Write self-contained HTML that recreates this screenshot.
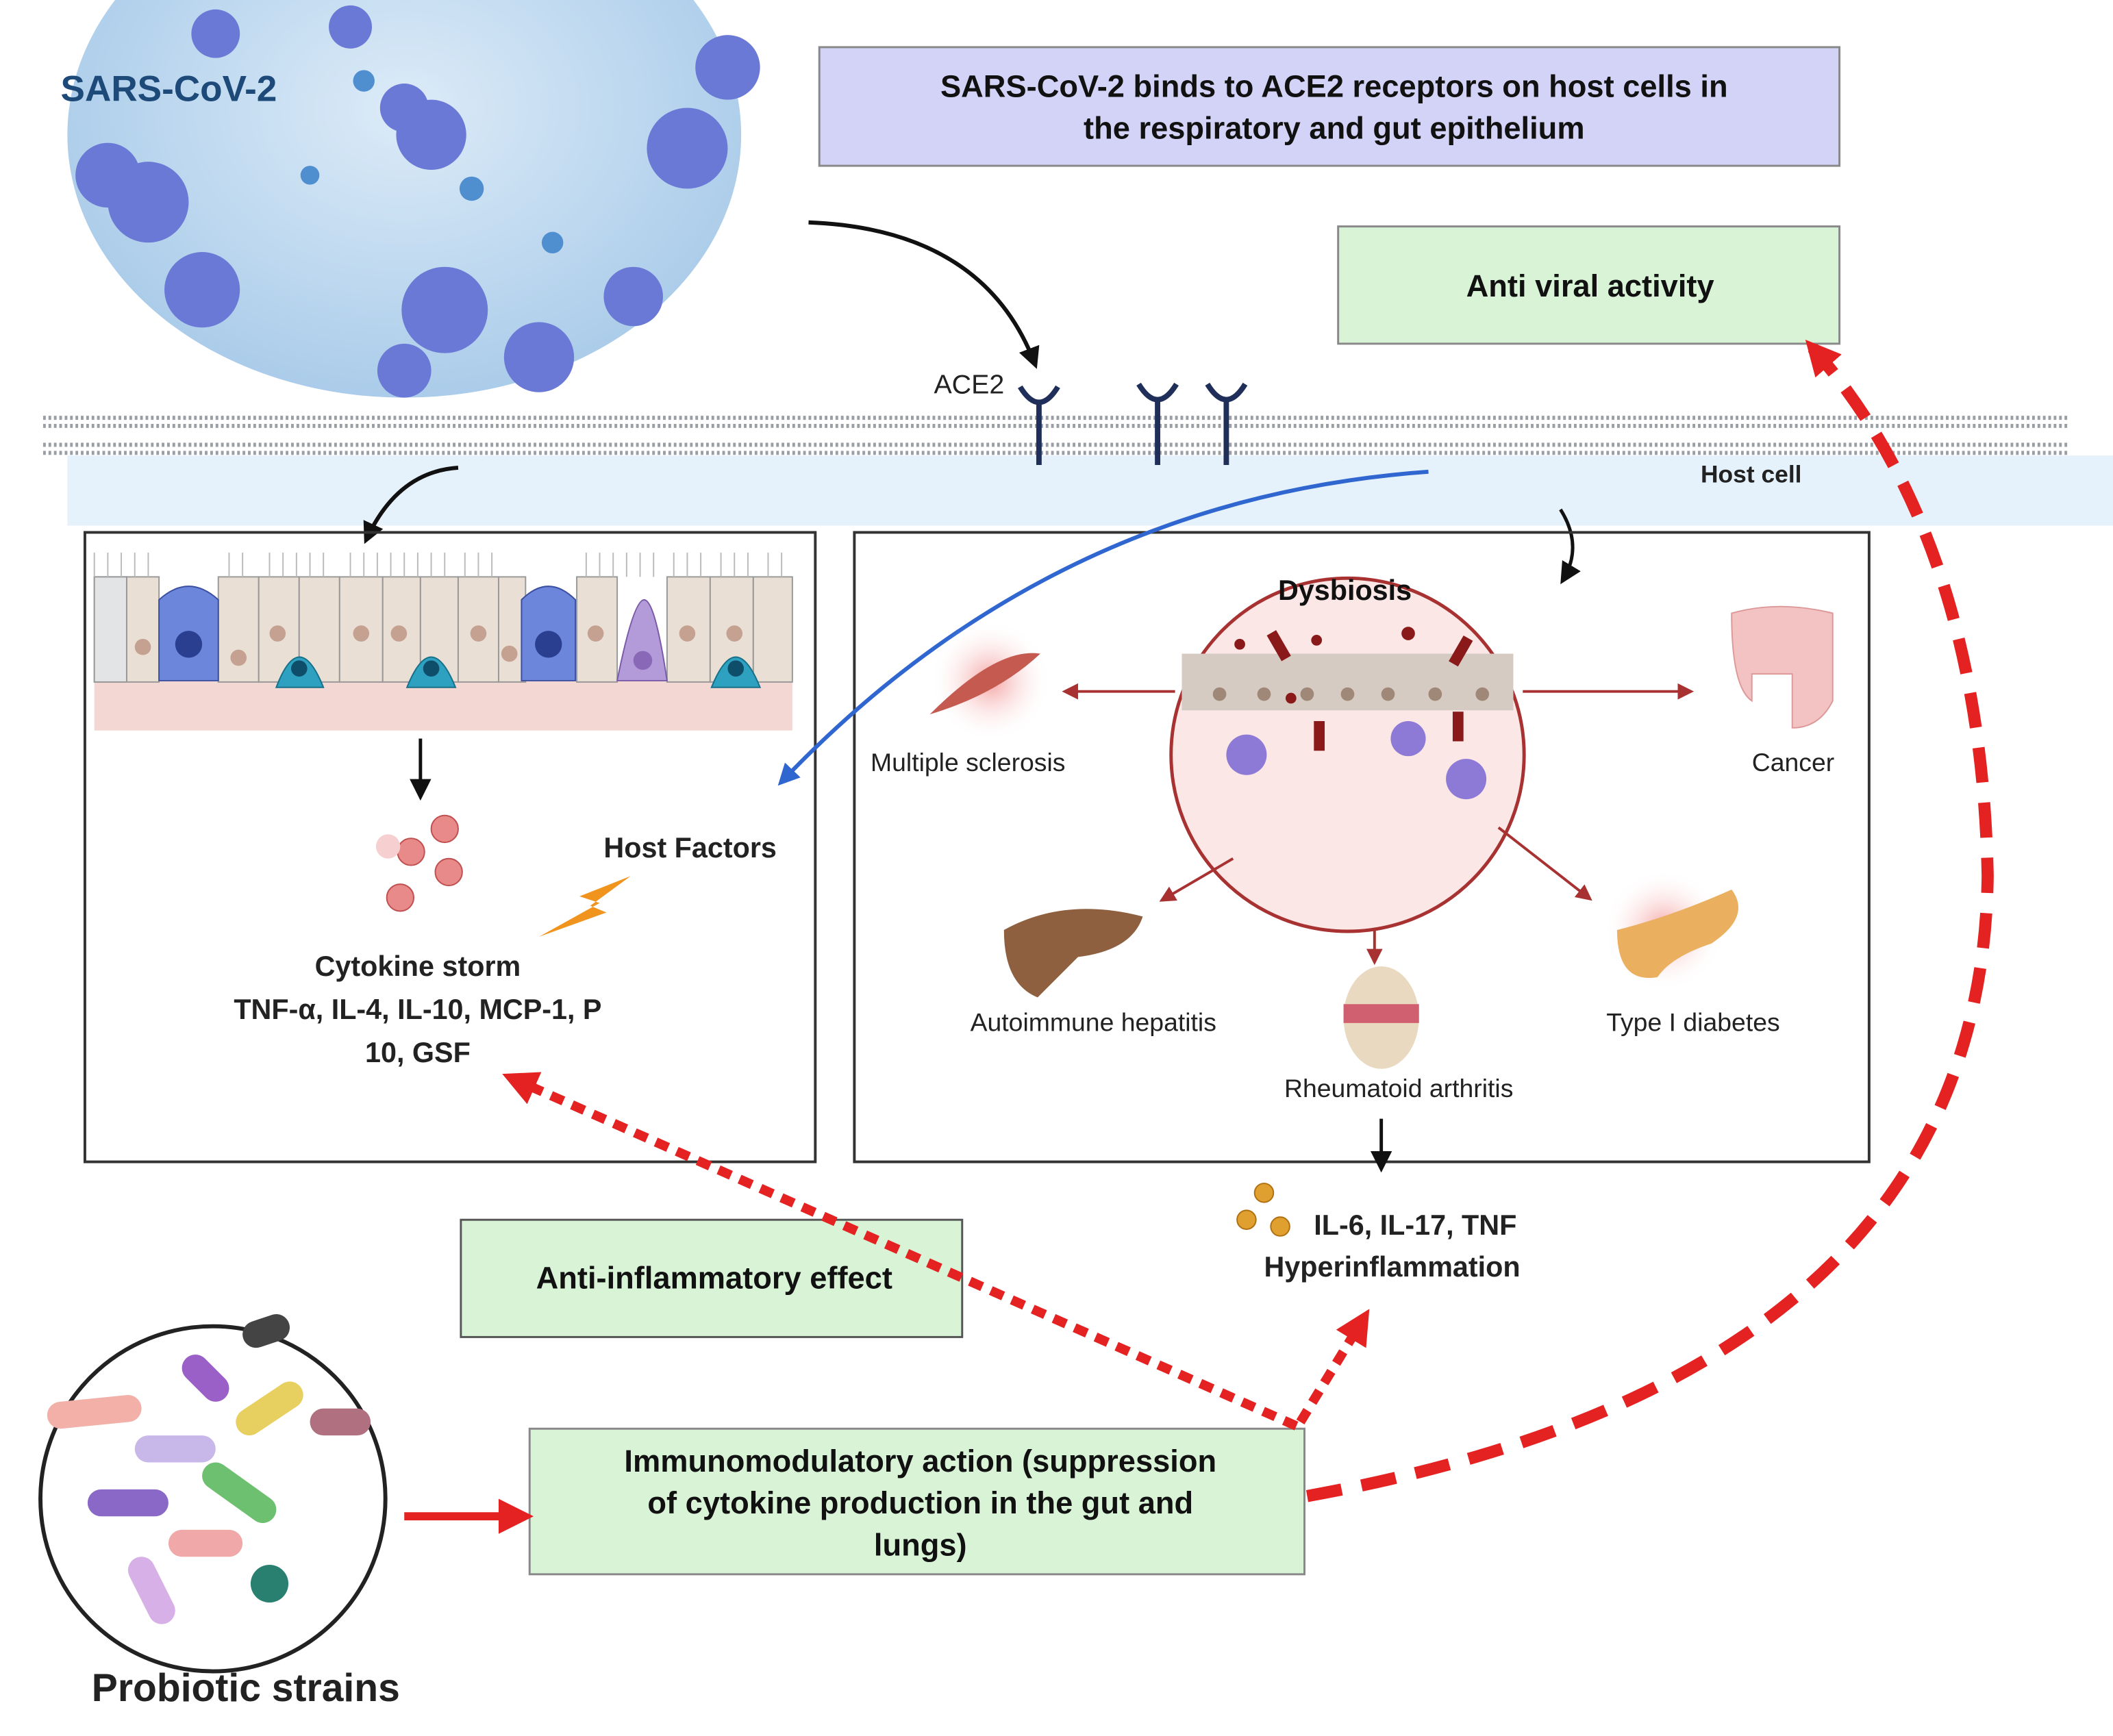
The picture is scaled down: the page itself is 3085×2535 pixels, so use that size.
<!DOCTYPE html>
<html><head><meta charset="utf-8"><style>
html,body{margin:0;padding:0;background:#fff;width:3085px;height:2535px;overflow:hidden}
svg{display:block}
text{font-family:"Liberation Sans",sans-serif}
</style></head><body>
<svg width="3085" height="2535" viewBox="0 0 1568 1288" preserveAspectRatio="none" xmlns="http://www.w3.org/2000/svg">
<defs>
<radialGradient id="vir" cx="0.5" cy="0.45" r="0.6"><stop offset="0" stop-color="#dcebf8"/><stop offset="1" stop-color="#a6c9e8"/></radialGradient>
<radialGradient id="glow" r="0.5"><stop offset="0" stop-color="#f4a0a0"/><stop offset="1" stop-color="#fff" stop-opacity="0"/></radialGradient>
<marker id="abig" markerWidth="16" markerHeight="16" refX="12" refY="8" orient="auto" markerUnits="userSpaceOnUse"><path d="M0,0 L16,8 L0,16 z" fill="#111"/></marker>
<marker id="ar" markerWidth="12" markerHeight="12" refX="10" refY="6" orient="auto" markerUnits="userSpaceOnUse"><path d="M0,0 L12,6 L0,12 z" fill="#a83232"/></marker>
<marker id="ared" markerWidth="26" markerHeight="26" refX="18" refY="13" orient="auto" markerUnits="userSpaceOnUse"><path d="M0,0 L26,13 L0,26 z" fill="#e52222"/></marker>
<marker id="abl" markerWidth="16" markerHeight="16" refX="12" refY="8" orient="auto" markerUnits="userSpaceOnUse"><path d="M0,0 L16,8 L0,16 z" fill="#2f66d0"/></marker>
</defs>
<!-- virus -->
<ellipse cx="300" cy="100" rx="250" ry="195" fill="url(#vir)"/>
<g fill="#6b79d6">
<circle cx="110" cy="150" r="30"/><circle cx="80" cy="130" r="24"/><circle cx="150" cy="215" r="28"/>
<circle cx="320" cy="100" r="26"/><circle cx="300" cy="80" r="18"/>
<circle cx="330" cy="230" r="32"/><circle cx="300" cy="275" r="20"/><circle cx="400" cy="265" r="26"/>
<circle cx="470" cy="220" r="22"/><circle cx="510" cy="110" r="30"/><circle cx="540" cy="50" r="24"/>
<circle cx="160" cy="25" r="18"/><circle cx="260" cy="20" r="16"/>
</g>
<g fill="#4f8fd0"><circle cx="350" cy="140" r="9"/><circle cx="410" cy="180" r="8"/><circle cx="230" cy="130" r="7"/><circle cx="270" cy="60" r="8"/></g>
<text x="45" y="75" font-size="27" font-weight="bold" fill="#1d4a79">SARS-CoV-2</text>
<!-- top box -->
<rect x="608" y="35" width="757" height="88" fill="#d3d3f7" stroke="#888" stroke-width="1.5"/>
<text x="990" y="72" font-size="23" font-weight="bold" text-anchor="middle" fill="#111">SARS-CoV-2 binds to ACE2 receptors on host cells in</text>
<text x="990" y="103" font-size="23" font-weight="bold" text-anchor="middle" fill="#111">the respiratory and gut epithelium</text>
<rect x="993" y="168" width="372" height="87" fill="#d9f3d7" stroke="#888" stroke-width="1.5"/>
<text x="1180" y="220" font-size="23" font-weight="bold" text-anchor="middle" fill="#111">Anti viral activity</text>
<!-- membrane -->
<rect x="50" y="338" width="1518" height="52" fill="#e5f1fb"/>
<g stroke="#9a9fa6" stroke-width="3" stroke-dasharray="2,2">
<line x1="32" y1="310" x2="1535" y2="310"/><line x1="32" y1="316" x2="1535" y2="316"/>
<line x1="32" y1="330" x2="1535" y2="330"/><line x1="32" y1="336" x2="1535" y2="336"/>
</g>
<g stroke="#1f2f5a" stroke-width="4" fill="none">
<line x1="771" y1="300" x2="771" y2="345"/><path d="M757,287 Q771,310 785,287"/>
<line x1="859" y1="298" x2="859" y2="345"/><path d="M845,285 Q859,308 873,285"/>
<line x1="910" y1="298" x2="910" y2="345"/><path d="M896,285 Q910,308 924,285"/>
</g>
<text x="693" y="292" font-size="20" fill="#222">ACE2</text>
<text x="1262" y="358" font-size="18" font-weight="bold" fill="#222">Host cell</text>
<path d="M600,165 Q730,170 768,270" stroke="#111" stroke-width="3" fill="none" marker-end="url(#abig)"/>
<path d="M340,347 Q295,350 272,400" stroke="#111" stroke-width="3" fill="none" marker-end="url(#abig)"/>
<path d="M1158,378 Q1175,405 1160,430" stroke="#111" stroke-width="2.5" fill="none" marker-end="url(#abig)"/>
<!-- boxes -->
<rect x="63" y="395" width="542" height="467" fill="none" stroke="#333" stroke-width="2"/>
<rect x="634" y="395" width="753" height="467" fill="none" stroke="#333" stroke-width="2"/>
<!-- epithelium -->
<rect x="70" y="505" width="518" height="37" fill="#f3d7d3"/>
<g stroke="#999" stroke-width="1" fill="#e9dfd4">
<rect x="70" y="428" width="24" height="78"/><rect x="94" y="428" width="24" height="78"/>
<rect x="162" y="428" width="30" height="78"/><rect x="192" y="428" width="30" height="78"/><rect x="222" y="428" width="30" height="78"/><rect x="252" y="428" width="32" height="78"/><rect x="284" y="428" width="28" height="78"/><rect x="312" y="428" width="28" height="78"/>
<rect x="340" y="428" width="30" height="78"/><rect x="370" y="428" width="20" height="78"/><rect x="428" y="428" width="30" height="78"/>
<rect x="495" y="428" width="32" height="78"/><rect x="527" y="428" width="32" height="78"/><rect x="559" y="428" width="29" height="78"/>
</g>
<rect x="70" y="428" width="24" height="78" fill="#e2e4e6" stroke="#999"/>
<g fill="#c4a190"><circle cx="106" cy="480" r="6"/><circle cx="177" cy="488" r="6"/><circle cx="206" cy="470" r="6"/><circle cx="268" cy="470" r="6"/><circle cx="296" cy="470" r="6"/><circle cx="355" cy="470" r="6"/><circle cx="378" cy="485" r="6"/><circle cx="442" cy="470" r="6"/><circle cx="510" cy="470" r="6"/><circle cx="545" cy="470" r="6"/></g>
<path d="M118,505 L118,445 Q140,425 162,445 L162,505 z" fill="#6c86dc" stroke="#3a4fa0"/><circle cx="140" cy="478" r="10" fill="#2a3f90"/>
<path d="M387,505 L387,445 Q407,425 427,445 L427,505 z" fill="#6c86dc" stroke="#3a4fa0"/><circle cx="407" cy="478" r="10" fill="#2a3f90"/>
<path d="M458,505 Q470,445 478,445 Q486,445 495,505 z" fill="#b39ad8" stroke="#7a5aa8"/><circle cx="477" cy="490" r="7" fill="#8a68b8"/>
<g fill="#2ea0c0" stroke="#17708a"><path d="M205,510 Q222,465 240,510 z"/><path d="M302,510 Q320,465 338,510 z"/><path d="M528,510 Q546,465 564,510 z"/></g>
<g fill="#0f4e6a"><circle cx="222" cy="496" r="6"/><circle cx="320" cy="496" r="6"/><circle cx="546" cy="496" r="6"/></g>
<g stroke="#bbb" stroke-width="1"><path d="M70,428 v-18 M80,428 v-18 M90,428 v-18 M100,428 v-18 M110,428 v-18 M170,428 v-18 M180,428 v-18 M200,428 v-18 M210,428 v-18 M220,428 v-18 M230,428 v-18 M240,428 v-18 M260,428 v-18 M270,428 v-18 M280,428 v-18 M290,428 v-18 M300,428 v-18 M310,428 v-18 M320,428 v-18 M330,428 v-18 M345,428 v-18 M355,428 v-18 M365,428 v-18 M435,428 v-18 M445,428 v-18 M455,428 v-18 M465,428 v-18 M475,428 v-18 M485,428 v-18 M500,428 v-18 M510,428 v-18 M520,428 v-18 M535,428 v-18 M545,428 v-18 M555,428 v-18 M570,428 v-18 M580,428 v-18"/></g>
<line x1="312" y1="548" x2="312" y2="590" stroke="#111" stroke-width="2.5" marker-end="url(#abig)"/>
<g fill="#e88a8a" stroke="#c05050"><circle cx="330" cy="615" r="10"/><circle cx="305" cy="632" r="10"/><circle cx="333" cy="647" r="10"/><circle cx="297" cy="666" r="10"/></g>
<circle cx="288" cy="628" r="9" fill="#f6d0d0"/>
<path d="M468,650 L430,665 L445,670 L400,695 L450,677 L438,672 Z" fill="#f0941e"/>
<text x="448" y="636" font-size="21" font-weight="bold" fill="#222">Host Factors</text>
<text x="310" y="724" font-size="21" font-weight="bold" text-anchor="middle" fill="#222">Cytokine storm</text>
<text x="310" y="756" font-size="21" font-weight="bold" text-anchor="middle" fill="#222">TNF-α, IL-4, IL-10, MCP-1, P</text>
<text x="310" y="788" font-size="21" font-weight="bold" text-anchor="middle" fill="#222">10, GSF</text>
<!-- blue arrow -->
<path d="M1060,350 Q780,370 580,580" stroke="#2f66d0" stroke-width="3" fill="none" marker-end="url(#abl)"/>
<!-- dysbiosis -->
<circle cx="1000" cy="560" r="131" fill="#fbe7e6" stroke="#a83232" stroke-width="2.5"/>
<rect x="877" y="485" width="246" height="42" fill="#d6cbc2"/>
<g fill="#a08878"><circle cx="905" cy="515" r="5"/><circle cx="938" cy="515" r="5"/><circle cx="970" cy="515" r="5"/><circle cx="1000" cy="515" r="5"/><circle cx="1030" cy="515" r="5"/><circle cx="1065" cy="515" r="5"/><circle cx="1100" cy="515" r="5"/></g>
<g fill="#8a1a1a"><rect x="945" y="468" width="8" height="22" transform="rotate(-30 949 479)"/><rect x="1080" y="472" width="8" height="22" transform="rotate(30 1084 483)"/><rect x="975" y="535" width="8" height="22"/><rect x="1078" y="528" width="8" height="22"/><circle cx="920" cy="478" r="4"/><circle cx="977" cy="475" r="4"/><circle cx="1045" cy="470" r="5"/><circle cx="958" cy="518" r="4"/></g>
<g fill="#8d7ad6"><circle cx="925" cy="560" r="15"/><circle cx="1045" cy="548" r="13"/><circle cx="1088" cy="578" r="15"/></g>
<text x="998" y="445" font-size="21" font-weight="bold" text-anchor="middle" fill="#111">Dysbiosis</text>
<g stroke="#a83232" stroke-width="2" fill="none">
<line x1="872" y1="513" x2="790" y2="513" marker-end="url(#ar)"/>
<line x1="1130" y1="513" x2="1255" y2="513" marker-end="url(#ar)"/>
<line x1="915" y1="637" x2="862" y2="668" marker-end="url(#ar)"/>
<line x1="1020" y1="690" x2="1020" y2="714" marker-end="url(#ar)"/>
<line x1="1112" y1="614" x2="1180" y2="667" marker-end="url(#ar)"/>
</g>
<circle cx="735" cy="505" r="45" fill="url(#glow)"/>
<path d="M690,530 Q740,480 772,485 Q740,515 690,530 z" fill="#c45a50"/>
<path d="M1285,455 Q1320,445 1360,455 L1360,520 Q1350,540 1330,540 L1330,500 L1300,500 L1300,520 Q1285,510 1285,455 z" fill="#f3c2c2" stroke="#d99"/>
<text x="646" y="572" font-size="19" fill="#222">Multiple sclerosis</text>
<text x="1300" y="572" font-size="19" fill="#222">Cancer</text>
<path d="M745,690 Q790,665 848,680 Q840,705 800,710 L770,740 Q745,730 745,690 z" fill="#8f6040"/>
<ellipse cx="1025" cy="755" rx="28" ry="38" fill="#e9d9c0"/><rect x="997" y="745" width="56" height="14" fill="#d06070"/>
<circle cx="1235" cy="690" r="45" fill="url(#glow)"/>
<path d="M1200,690 Q1240,680 1285,660 Q1300,680 1270,700 Q1240,710 1230,725 Q1200,730 1200,690 z" fill="#eab060"/>
<text x="720" y="765" font-size="19" fill="#222">Autoimmune hepatitis</text>
<text x="1192" y="765" font-size="19" fill="#222">Type I diabetes</text>
<text x="953" y="814" font-size="19" fill="#222">Rheumatoid arthritis</text>
<line x1="1025" y1="830" x2="1025" y2="866" stroke="#111" stroke-width="2.5" marker-end="url(#abig)"/>
<g fill="#e0a030" stroke="#b07010"><circle cx="938" cy="885" r="7"/><circle cx="925" cy="905" r="7"/><circle cx="950" cy="910" r="7"/></g>
<text x="975" y="916" font-size="21" font-weight="bold" fill="#222">IL-6, IL-17, TNF</text>
<text x="938" y="947" font-size="21" font-weight="bold" fill="#222">Hyperinflammation</text>
<!-- bottom -->
<rect x="342" y="905" width="372" height="87" fill="#d9f3d7" stroke="#555" stroke-width="1.5"/>
<text x="530" y="956" font-size="23" font-weight="bold" text-anchor="middle" fill="#111">Anti-inflammatory effect</text>
<rect x="393" y="1060" width="575" height="108" fill="#d9f3d7" stroke="#888" stroke-width="1.5"/>
<text x="683" y="1092" font-size="23" font-weight="bold" text-anchor="middle" fill="#111">Immunomodulatory action (suppression</text>
<text x="683" y="1123" font-size="23" font-weight="bold" text-anchor="middle" fill="#111">of cytokine production in the gut and</text>
<text x="683" y="1154" font-size="23" font-weight="bold" text-anchor="middle" fill="#111">lungs)</text>
<circle cx="158" cy="1112" r="128" fill="#fff" stroke="#222" stroke-width="3"/>
<g stroke-linecap="round" stroke-width="20">
<line x1="45" y1="1050" x2="95" y2="1045" stroke="#f2b0a8"/><line x1="145" y1="1015" x2="160" y2="1030" stroke="#9a60c8"/>
<line x1="190" y1="990" x2="205" y2="985" stroke="#444"/><line x1="185" y1="1055" x2="215" y2="1035" stroke="#e8d060"/>
<line x1="110" y1="1075" x2="150" y2="1075" stroke="#c8b8ea"/><line x1="75" y1="1115" x2="115" y2="1115" stroke="#8a68c8"/>
<line x1="160" y1="1095" x2="195" y2="1120" stroke="#6cc070"/><line x1="135" y1="1145" x2="170" y2="1145" stroke="#f0a8a8"/>
<line x1="105" y1="1165" x2="120" y2="1195" stroke="#d8b0e8"/><line x1="240" y1="1055" x2="265" y2="1055" stroke="#b07080"/>
</g>
<circle cx="200" cy="1175" r="14" fill="#2a8070"/>
<text x="68" y="1262" font-size="29" font-weight="bold" fill="#222">Probiotic strains</text>
<line x1="300" y1="1125" x2="388" y2="1125" stroke="#e52222" stroke-width="6" marker-end="url(#ared)"/>
<!-- dashed red -->
<g stroke="#e52222" fill="none" stroke-width="7" stroke-dasharray="10,7">
<line x1="962" y1="1058" x2="380" y2="800" marker-end="url(#ared)"/>
<line x1="965" y1="1055" x2="1012" y2="978" marker-end="url(#ared)"/>
</g>
<path d="M970,1110 Q1470,1020 1475,650 Q1470,400 1345,258" stroke="#e52222" stroke-width="9" stroke-dasharray="26,15" fill="none" marker-end="url(#ared)"/>
</svg>
</body></html>
